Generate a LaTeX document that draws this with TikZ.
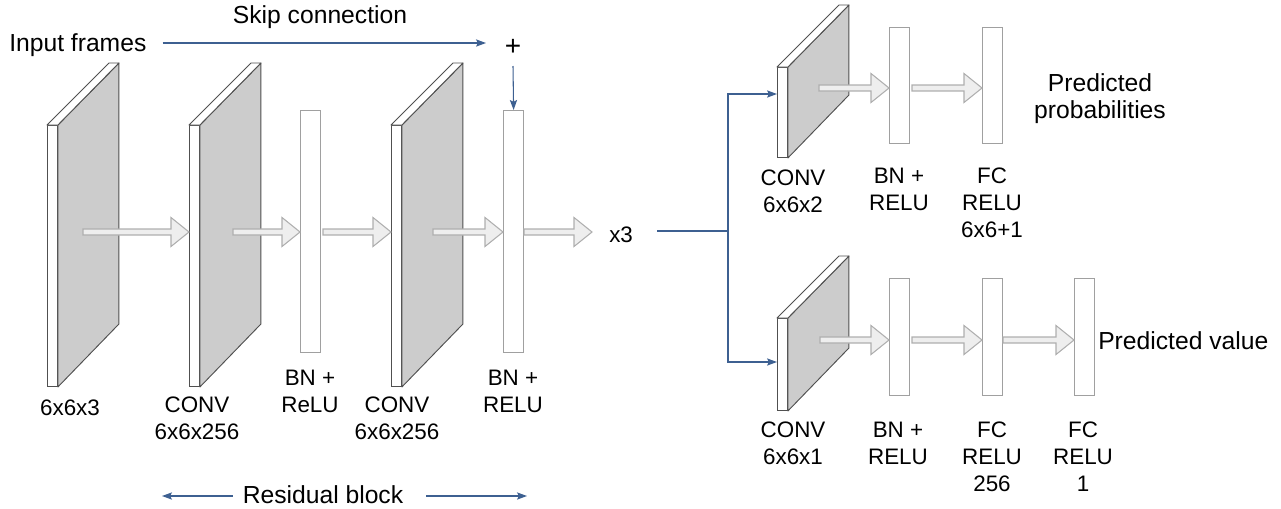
\documentclass[tikz,border=0pt]{standalone}
\usepackage{fontspec}
\setmainfont{Liberation Sans}
\usetikzlibrary{calc,arrows.meta}
\definecolor{skipblue}{RGB}{61,96,145}
\definecolor{slabgray}{RGB}{204,204,204}
\definecolor{slabedge}{RGB}{80,80,80}
\definecolor{baredge}{RGB}{160,160,160}
\definecolor{arrfill}{RGB}{238,238,238}
\definecolor{arredge}{RGB}{175,175,175}
\tikzset{
  slabface/.style={draw=slabedge, fill=white, line width=0.7pt, inner sep=0pt, minimum width=7.5pt},
  slabline/.style={draw=slabedge, line width=0.7pt, line join=round},
  bar/.style={draw=baredge, fill=white, line width=0.9pt, inner sep=0pt, minimum width=15pt, anchor=north west},
  fatarr/.style={fill=arrfill, draw=arredge, line width=0.8pt, line join=miter},
  blueline/.style={draw=skipblue, line width=0.8pt},
  bluearrow/.style={blueline, -{Stealth[length=7.5pt,width=5.4pt,inset=1.4pt]}},
  big/.style={font=\fontsize{18.5}{20.25}\selectfont, inner sep=0pt},
  lab/.style={font=\fontsize{16.8}{20}\selectfont, align=center, inner sep=0pt, anchor=north},
}
\newcommand\slabbox[4]{%
  \node[slabface, minimum height={#4*0.75pt}, anchor=north west] (#1) at (#2,#3) {};
  \draw[slabline, fill=slabgray] (#1.south east) -- (#1.north east) -- ++(61,-62) -- ++(0,#4) -- cycle;
  \draw[slabline, fill=white] (#1.north west) -- (#1.north east) -- ++(61,-62) -- ++(-10,0) -- cycle;
}
\newcommand\fatarrow[2]{%
  \filldraw[fatarr] let \p1=(#1), \p2=(#2) in
   (\x1,{\y1+2.25pt}) -- ({\x2-13.5pt},{\y1+2.25pt}) -- ({\x2-13.5pt},{\y1+10.875pt}) -- (\x2,\y1)
   -- ({\x2-13.5pt},{\y1-10.875pt}) -- ({\x2-13.5pt},{\y1-2.25pt}) -- (\x1,{\y1-2.25pt}) -- cycle;
}
\begin{document}
\begin{tikzpicture}[x=0.75pt, y=-0.75pt]
\useasboundingbox (0,0) rectangle (1281,508);
% trunk
\slabbox{s0}{47}{125}{261}
\slabbox{s1}{189}{125}{261}
\node[bar, minimum height=181.5pt] (b1) at (300,110) {};
\slabbox{s2}{391}{125}{261}
\node[bar, minimum height=181.5pt] (b2) at (503,110) {};
% policy head
\slabbox{t1}{777}{67}{90}
\node[bar, minimum height=87pt] (t2) at (889,27) {};
\node[bar, minimum height=87pt] (t3) at (982,27) {};
% value head
\slabbox{u1}{777}{318}{92}
\node[bar, minimum height=87.75pt] (u2) at (889,278) {};
\node[bar, minimum height=87.75pt] (u3) at (982,278) {};
\node[bar, minimum height=87.75pt] (u4) at (1074,278) {};
% fat arrows
\coordinate (a0) at (83,232);
\coordinate (a1) at (233,232);
\coordinate (a2) at (323,232);
\coordinate (a3) at (433,232);
\coordinate (a4) at (524,232);
\coordinate (a4e) at (592,232);
\fatarrow{a0}{s1.west}
\fatarrow{a1}{b1.west}
\fatarrow{a2}{s2.west}
\fatarrow{a3}{b2.west}
\fatarrow{a4}{a4e}
\coordinate (c0) at (819,88);
\coordinate (c1) at (912,88);
\fatarrow{c0}{t2.west}
\fatarrow{c1}{t3.west}
\coordinate (d0) at (820,340);
\coordinate (d1) at (912,340);
\coordinate (d2) at (1003,340);
\fatarrow{d0}{u2.west}
\fatarrow{d1}{u3.west}
\fatarrow{d2}{u4.west}
% texts
\node[big, anchor=base west] (inp) at (9,51) {Input frames};
\node[big, anchor=base] (skip) at (320,23) {Skip connection};
\node[font=\fontsize{21}{24}\selectfont, inner sep=0pt, anchor=center] (plus) at (513,47) {+};
\node[lab] (l0) at (70,400) {6x6x3};
\node[lab] (l1) at (197,397) {CONV\\6x6x256};
\node[lab] (l2) at (310,370) {BN +\\ReLU};
\node[lab] (l3) at (397,397) {CONV\\6x6x256};
\node[lab] (l4) at (513,370) {BN +\\RELU};
\node[lab, anchor=base west] (x3) at (609,242) {x3};
\node[lab] (m0) at (793,170) {CONV\\6x6x2};
\node[lab] (m1) at (899,168) {BN +\\RELU};
\node[lab] (m2) at (992,168) {FC\\RELU\\6x6+1};
\node[big, align=center, anchor=north] (pp) at (1100,73) {Predicted\\probabilities};
\node[lab] (n0) at (793,422) {CONV\\6x6x1};
\node[lab] (n1) at (898,422) {BN +\\RELU};
\node[lab] (n2) at (992,422) {FC\\RELU\\256};
\node[lab] (n3) at (1083,422) {FC\\RELU\\1};
\node[big, anchor=base west] (pv) at (1098,349) {Predicted value};
\node[big, anchor=base] (res) at (323,503) {Residual block};
% blue connectors
\coordinate (skipend) at (486,43);
\draw[bluearrow] ($(inp.east |- skipend)+(16,0)$) -- (skipend);
\coordinate (plusout) at (513,66);
\draw[bluearrow] (plusout -| plus.south) -- (b2.north);
\coordinate (j) at (728,231);
\draw[blueline] ($(x3.east |- j)+(24,0)$) -- (j);
\coordinate (t1in) at ($(t1.north west)+(0,27)$);
\coordinate (u1in) at ($(u1.north west)+(0,44)$);
\draw[bluearrow] (j) |- (t1in);
\draw[bluearrow] (j) |- (u1in);
\coordinate (rl) at (162,496);
\coordinate (rr) at (527,496);
\draw[bluearrow] ($(res.west |- rl)+(-10,0)$) -- (rl);
\draw[bluearrow] ($(res.east |- rr)+(23,0)$) -- (rr);
\end{tikzpicture}
\end{document}
